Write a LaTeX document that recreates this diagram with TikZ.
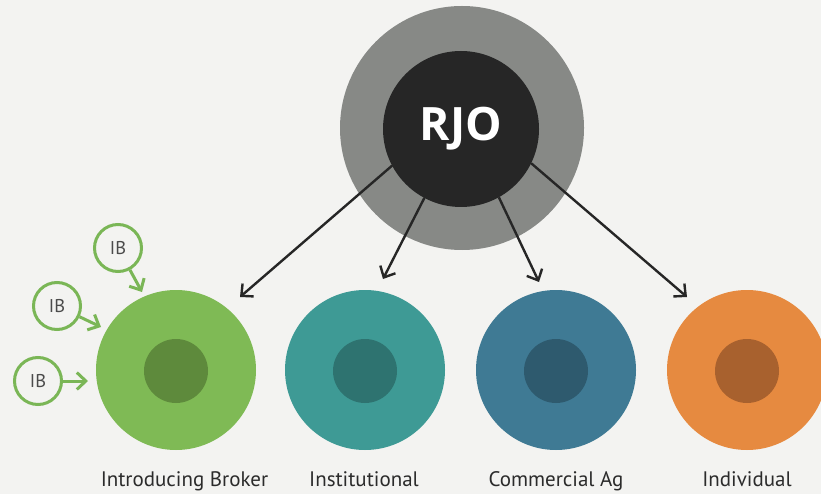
\documentclass[tikz,border=0pt]{standalone}
\usepackage{fontspec}
\setmainfont{PT Sans}
\newfontfamily\rjofont{Open Sans}
\usetikzlibrary{arrows.meta}
\definecolor{bg}{HTML}{F3F3F1}
\definecolor{ringgrey}{HTML}{878986}
\definecolor{rjodark}{HTML}{262626}
\definecolor{gA}{HTML}{7FBA55}
\definecolor{gB}{HTML}{5E8A3C}
\definecolor{tA}{HTML}{3E9A95}
\definecolor{tB}{HTML}{2E7370}
\definecolor{bA}{HTML}{3F7A94}
\definecolor{bB}{HTML}{2E5A6E}
\definecolor{oA}{HTML}{E68A40}
\definecolor{oB}{HTML}{A8612E}
\definecolor{ibgreen}{HTML}{7AB656}
\definecolor{txt}{HTML}{2B2B2B}
\begin{document}
\begin{tikzpicture}[x=1pt,y=-1pt,
  disc/.style={circle,inner sep=0pt,outer sep=0pt,minimum size=#1},
  bigdisc/.style={disc=160pt},
  core/.style={disc=64pt},
  ibnode/.style={circle,draw=ibgreen,line width=3pt,fill=bg,inner sep=0pt,outer sep=1.5pt,minimum size=47pt,
    text=txt!85,font=\fontsize{18.5}{20}\selectfont},
  blackarrow/.style={draw=rjodark,line width=2.4pt,-{Straight Barb[length=9pt,width=17pt]}},
  greenarrow/.style={draw=ibgreen,line width=3pt,-{Straight Barb[length=9pt,width=17pt]}},
  lbl/.style={anchor=base,text=txt,font=\fontsize{21}{24}\selectfont}
]
\useasboundingbox (0,0) rectangle (821,494);
\fill[bg] (0,0) rectangle (821,494);

% RJO
\node[disc=244pt,fill=ringgrey] (rjoring) at (462,128) {};
\node[disc=156pt,fill=rjodark,text=white,font=\rjofont\bfseries\fontsize{46}{46}\selectfont] (rjo) at (461,129) {RJO};

% bottom discs
\node[bigdisc,fill=gA] (ibc) at (176,370) {};
\node[core,fill=gB] (ibcore) at (176,371) {};
\node[bigdisc,fill=tA] (inst) at (365,370) {};
\node[core,fill=tB] (instcore) at (365,371) {};
\node[bigdisc,fill=bA] (comm) at (556,370) {};
\node[core,fill=bB] (commcore) at (556,371) {};
\node[bigdisc,fill=oA] (indi) at (747,370) {};
\node[core,fill=oB] (indicore) at (747,371) {};

% labels
\node[lbl] (l1) at (184.5,486) {Introducing Broker};
\node[lbl] (l2) at (364,486) {Institutional};
\node[lbl] (l3) at (556,486) {Commercial Ag};
\node[lbl] (l4) at (747,486) {Individual};

% black arrows
\coordinate (a1) at (240,297);
\coordinate (a2) at (383,279);
\coordinate (a3) at (539,282);
\coordinate (a4) at (687,297);
\draw[blackarrow] (rjo.208) -- (a1);
\draw[blackarrow] (rjo.242) -- (a2);
\draw[blackarrow] (rjo.299.5) -- (a3);
\draw[blackarrow] (rjo.334) -- (a4);

% IB nodes
\node[ibnode] (ib1) at (118,248) {IB};
\node[ibnode] (ib2) at (57,306) {IB};
\node[ibnode] (ib3) at (38,381) {IB};
\coordinate (g1) at (142,292);
\coordinate (g2) at (101,327);
\coordinate (g3) at (88,381);
\draw[greenarrow] (ib1) -- (g1);
\draw[greenarrow] (ib2) -- (g2);
\draw[greenarrow] (ib3) -- (g3);
\end{tikzpicture}
\end{document}
